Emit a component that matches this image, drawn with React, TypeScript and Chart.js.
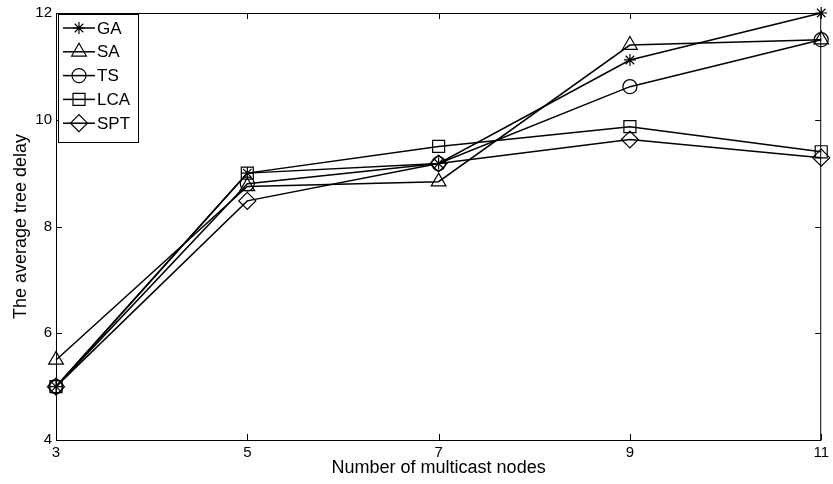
import React, { useEffect, useRef } from 'react';
import { Chart, registerables } from 'chart.js';
import { drawPoint } from 'chart.js/helpers';

Chart.register(...registerables);

const xValues = [3, 5, 7, 9, 11];
const gaValues = [5, 9.0, 9.18, 11.12, 12];
const saValues = [5.5, 8.75, 8.84, 11.4, 11.5];
const tsValues = [5, 8.8, 9.18, 10.62, 11.5];
const lcaValues = [5, 9.0, 9.5, 9.87, 9.4];
const sptValues = [5, 8.48, 9.18, 9.63, 9.29];
const seriesNames = ['GA', 'SA', 'TS', 'LCA', 'SPT'];
const seriesMarkers = ['star', 'triangle', 'circle', 'rect', 'rectRot'];
const seriesRadius = [6, 8.5, 7, 8.5, 8.5];
const xTicks = [3, 5, 7, 9, 11];
const yTicks = [4, 6, 8, 10, 12];
const xTitle = 'Number of multicast nodes';
const yTitle = 'The average tree delay';

const FONT = '"Liberation Sans", Arial, sans-serif';

const framePlugin = {
  id: 'frame',
  afterDraw(chart: any) {
    const { ctx, chartArea: a, scales } = chart;
    ctx.save();
    ctx.strokeStyle = '#000';
    ctx.lineWidth = 1;
    ctx.strokeRect(a.left + 0.5, a.top + 0.5, a.right - a.left - 1, a.bottom - a.top);
    const tl = 6;
    ctx.beginPath();
    xTicks.forEach((v) => {
      const px = Math.round(scales.x.getPixelForValue(v)) + 0.5;
      ctx.moveTo(px, a.bottom);
      ctx.lineTo(px, a.bottom - tl);
      ctx.moveTo(px, a.top);
      ctx.lineTo(px, a.top + tl);
    });
    yTicks.forEach((v) => {
      const py = Math.round(scales.y.getPixelForValue(v)) + 0.5;
      ctx.moveTo(a.left, py);
      ctx.lineTo(a.left + tl, py);
      ctx.moveTo(a.right, py);
      ctx.lineTo(a.right - tl, py);
    });
    ctx.stroke();

    // axis titles
    ctx.fillStyle = '#000';
    ctx.font = `18px ${FONT}`;
    ctx.textAlign = 'center';
    ctx.textBaseline = 'middle';
    ctx.fillText(xTitle, (a.left + a.right) / 2, 468);
    ctx.save();
    ctx.translate(21, (a.top + a.bottom) / 2);
    ctx.rotate(-Math.PI / 2);
    ctx.fillText(yTitle, 0, 0);
    ctx.restore();

    // legend
    const bx = a.left + 2;
    const by = a.top + 1;
    const bw = 80;
    const bh = 128;
    ctx.fillStyle = '#fff';
    ctx.fillRect(bx, by, bw, bh);
    ctx.lineWidth = 1;
    ctx.strokeStyle = '#000';
    ctx.strokeRect(bx + 0.5, by + 0.5, bw, bh);
    ctx.font = `17px ${FONT}`;
    ctx.textAlign = 'left';
    ctx.textBaseline = 'middle';
    seriesNames.forEach((name, i) => {
      const y = by + 14 + i * 23.8;
      ctx.lineWidth = 1.5;
      ctx.beginPath();
      ctx.moveTo(bx + 5, y);
      ctx.lineTo(bx + 37, y);
      ctx.stroke();
      ctx.lineWidth = 1.2;
      ctx.fillStyle = 'rgba(0,0,0,0)';
      drawPoint(ctx, { pointStyle: seriesMarkers[i], radius: seriesRadius[i], rotation: 0, borderWidth: 1.2 } as any, bx + 21, y);
      ctx.fillStyle = '#000';
      ctx.fillText(name, bx + 39, y + 1);
    });
    ctx.restore();
  },
};

export default function App() {
  const ref = useRef<HTMLCanvasElement>(null);
  useEffect(() => {
    if (!ref.current) return;
    const allSeries = [gaValues, saValues, tsValues, lcaValues, sptValues];
    const chart = new Chart(ref.current, {
      type: 'line',
      data: {
        datasets: allSeries.map((vals, i) => ({
          label: seriesNames[i],
          data: xValues.map((x, j) => ({ x, y: vals[j] })),
          borderColor: '#000',
          backgroundColor: 'transparent',
          borderWidth: 1.5,
          pointStyle: seriesMarkers[i] as any,
          pointRadius: seriesRadius[i],
          pointBorderWidth: 1.2,
          pointBorderColor: '#000',
          pointBackgroundColor: 'transparent',
          tension: 0,
          clip: false as any,
        })),
      },
      options: {
        animation: false,
        responsive: false,
        devicePixelRatio: 1,
        layout: { padding: { top: 12, right: 11, left: 0, bottom: 0 } },
        plugins: { legend: { display: false }, tooltip: { enabled: false } },
        scales: {
          x: {
            type: 'linear',
            min: 3,
            max: 11,
            afterBuildTicks: (s: any) => { s.ticks = xTicks.map((v) => ({ value: v })); },
            afterFit: (s: any) => { s.height = 44; },
            grid: { display: false, drawTicks: false },
            border: { display: false },
            ticks: { color: '#000', font: { family: FONT, size: 15 }, padding: 4, maxRotation: 0 },
          },
          y: {
            type: 'linear',
            min: 4,
            max: 12,
            afterBuildTicks: (s: any) => { s.ticks = yTicks.map((v) => ({ value: v })); },
            afterFit: (s: any) => { s.width = 56; },
            grid: { display: false, drawTicks: false },
            border: { display: false },
            ticks: { color: '#000', font: { family: FONT, size: 15 }, padding: 4 },
          },
        },
      },
      plugins: [framePlugin],
    });
    return () => chart.destroy();
  }, []);
  return (
    <div style={{ position: 'absolute', left: 0, top: 0, width: 833, height: 484, background: '#fff' }}>
      <canvas ref={ref} width={833} height={484} />
    </div>
  );
}
